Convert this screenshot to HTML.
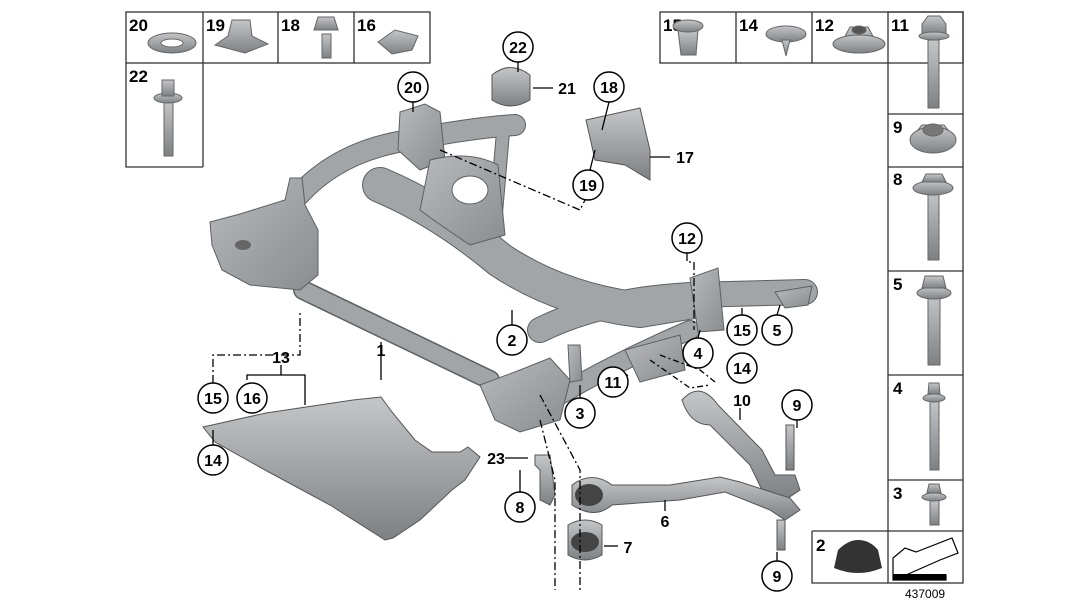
<!DOCTYPE html>
<html><head><meta charset="utf-8"><style>
html,body{margin:0;padding:0;background:#fff;}
svg{display:block;}
text{font-family:"Liberation Sans",Arial,sans-serif;font-weight:bold;fill:#000;}
</style></head><body>
<svg width="1079" height="606" viewBox="0 0 1079 606" xmlns="http://www.w3.org/2000/svg">
<defs>
<linearGradient id="g" x1="0" y1="0" x2="0" y2="1"><stop offset="0" stop-color="#c4c6c8"/><stop offset="1" stop-color="#7e8184"/></linearGradient>
<linearGradient id="g2" x1="0" y1="0" x2="1" y2="1"><stop offset="0" stop-color="#b8babd"/><stop offset="1" stop-color="#8a8d90"/></linearGradient>
</defs>
<g fill="none" stroke="#333" stroke-width="1.3">
<rect x="126" y="12" width="304" height="51"/>
<line x1="203" y1="12" x2="203" y2="167"/><line x1="278" y1="12" x2="278" y2="63"/><line x1="354" y1="12" x2="354" y2="63"/>
<polyline points="126,63 126,167 203,167"/>
<rect x="660" y="12" width="303" height="51"/>
<line x1="736" y1="12" x2="736" y2="63"/><line x1="812" y1="12" x2="812" y2="63"/>
<rect x="888" y="12" width="75" height="571"/>
<line x1="888" y1="114" x2="963" y2="114"/><line x1="888" y1="167" x2="963" y2="167"/><line x1="888" y1="271" x2="963" y2="271"/><line x1="888" y1="375" x2="963" y2="375"/><line x1="888" y1="480" x2="963" y2="480"/><line x1="812" y1="531" x2="963" y2="531"/>
<polyline points="812,531 812,583 888,583"/>
</g>
<g font-size="17">
<text x="129" y="31">20</text><text x="206" y="31">19</text><text x="281" y="31">18</text><text x="357" y="31">16</text>
<text x="129" y="82">22</text>
<text x="663" y="31">15</text><text x="739" y="31">14</text><text x="815" y="31">12</text><text x="891" y="31">11</text>
<text x="893" y="133">9</text><text x="893" y="185">8</text><text x="893" y="290">5</text><text x="893" y="394">4</text><text x="893" y="499">3</text><text x="816" y="551">2</text>
</g>
<text x="905" y="598" font-size="12" style="font-weight:normal">437009</text>
<g stroke="#666" stroke-width="1" fill="url(#g)">
<ellipse cx="172" cy="43" rx="24" ry="10"/><ellipse cx="172" cy="43" rx="11" ry="4" fill="#fff"/>
<path d="M215,45 L228,36 L232,20 L250,20 L252,36 L268,44 L245,53 Z"/>
<rect x="322" y="34" width="9" height="24"/><path d="M314,30 L318,17 L334,17 L338,30 Z"/>
<path d="M378,42 L395,30 L418,36 L412,50 L392,54 Z"/>
<rect x="164" y="100" width="9" height="56"/><ellipse cx="168" cy="98" rx="14" ry="5"/><rect x="162" y="80" width="12" height="16"/>
<path d="M678,30 L698,30 L696,55 L681,55 Z"/><ellipse cx="688" cy="26" rx="15" ry="6"/>
<ellipse cx="786" cy="34" rx="20" ry="8"/><path d="M782,40 L790,40 L786,56 Z"/>
<path d="M843,40 L850,27 L868,27 L875,40 L868,50 L850,50 Z"/><ellipse cx="859" cy="44" rx="26" ry="9"/><ellipse cx="859" cy="30" rx="7" ry="4" fill="#555"/>
<rect x="928" y="40" width="11" height="68"/><path d="M922,24 L928,16 L940,16 L946,24 L946,34 L922,34 Z"/><ellipse cx="934" cy="36" rx="15" ry="4"/>
<path d="M913,136 L922,125 L944,125 L953,136 L944,147 L922,147 Z"/><ellipse cx="933" cy="140" rx="23" ry="13"/><ellipse cx="933" cy="130" rx="10" ry="6" fill="#777"/>
<rect x="928" y="190" width="11" height="70"/><ellipse cx="933" cy="188" rx="20" ry="7"/><path d="M922,182 L926,174 L942,174 L946,182 Z"/>
<rect x="928" y="295" width="12" height="70"/><ellipse cx="934" cy="293" rx="17" ry="6"/><path d="M922,288 L925,276 L943,276 L946,288 Z"/>
<rect x="930" y="400" width="9" height="70"/><ellipse cx="934" cy="398" rx="11" ry="4"/><path d="M928,394 L929,383 L939,383 L940,394 Z"/>
<rect x="930" y="500" width="9" height="25"/><ellipse cx="934" cy="497" rx="12" ry="4"/><path d="M927,493 L929,484 L939,484 L941,493 Z"/>
</g>
<path d="M834,568 L838,550 Q848,540 858,540 Q870,540 878,550 L882,568 Q858,578 834,568 Z" fill="#333"/>
<path d="M893,558 L893,580 L946,580 L946,575 L906,575 L940,560 L958,553 L952,538 L916,552 L905,548 Z" fill="#fff" stroke="#000" stroke-width="1.2"/>
<rect x="893" y="574" width="53" height="6" fill="#000"/>

<!-- subframe tubes: outline then fill -->
<g fill="none" stroke-linecap="round" stroke-linejoin="round">
<g stroke="#5d6063">
<path d="M299,195 Q340,150 410,140 Q470,128 515,125" stroke-width="22"/>
<path d="M503,132 L494,236" stroke-width="14"/>
<path d="M303,290 L490,380" stroke-width="20"/>
<path d="M380,185 Q440,210 500,260 Q560,300 640,310 L700,300" stroke-width="36"/>
<path d="M540,330 Q600,300 690,295 L805,292" stroke-width="26"/>
<path d="M560,395 Q620,360 690,330" stroke-width="20"/>
</g>
<g stroke="#a2a5a8">
<path d="M299,195 Q340,150 410,140 Q470,128 515,125" stroke-width="20"/>
<path d="M503,132 L494,236" stroke-width="12"/>
<path d="M303,290 L490,380" stroke-width="17"/>
<path d="M380,185 Q440,210 500,260 Q560,300 640,310 L700,300" stroke-width="34"/>
<path d="M540,330 Q600,300 690,295 L805,292" stroke-width="24"/>
<path d="M560,395 Q620,360 690,330" stroke-width="18"/>
</g>
</g>
<g stroke="#5d6063" stroke-width="1" fill="url(#g2)">
<path d="M210,222 L240,214 L285,200 L290,178 L302,178 L305,205 L318,230 L318,275 L300,290 L250,285 L222,270 L212,245 Z"/>
<path d="M400,112 L425,104 L440,112 L445,160 L420,170 L398,150 Z"/>
<path d="M430,160 Q470,150 498,165 L505,235 L470,245 Q440,225 420,210 Z"/>
<ellipse cx="470" cy="190" rx="18" ry="14" fill="#fff"/>
<path d="M690,278 L718,268 L724,330 L698,332 Z"/>
<path d="M480,385 L520,370 L550,358 L570,380 L560,420 L520,432 L495,420 Z"/>
<path d="M568,345 L580,345 L582,380 L570,382 Z"/>
<path d="M625,350 L680,335 L685,370 L640,382 Z"/>
<path d="M775,292 L812,286 L808,305 L785,308 Z"/>
</g>
<ellipse cx="243" cy="245" rx="8" ry="5" fill="#666"/>
<g stroke="#555" stroke-width="1" fill="url(#g)">
<!-- 21 bushing -->
<path d="M492,75 Q510,60 530,75 L530,100 Q510,112 492,100 Z"/>
<!-- 17 bracket -->
<path d="M586,120 L640,108 L650,150 L650,180 L625,165 L595,160 Z"/>
<!-- 13 shield -->
<path d="M203,427 L266,413 L353,400 L381,397 L392,412 L415,440 L432,452 L460,452 L468,447 L480,457 L465,480 L452,490 L420,520 L393,538 L385,540 L330,505 L265,470 L215,442 Z"/>
<!-- 10 arm -->
<path d="M682,400 Q700,380 718,405 L762,450 L775,475 L795,475 L800,490 L785,500 L762,490 L750,465 L710,425 Q690,425 682,400 Z"/>
<rect x="786" y="425" width="8" height="45"/>
<!-- 6 arm -->
<path d="M572,485 Q592,470 612,485 L670,485 L720,477 L740,482 L790,498 L800,510 L785,520 L770,510 L725,492 L680,500 L612,505 Q595,520 572,505 Z"/>
<rect x="777" y="520" width="8" height="30"/>
<path d="M568,525 Q585,515 602,525 L602,555 Q585,565 568,555 Z"/>
<!-- 23 bracket -->
<path d="M535,455 L550,455 L555,495 L550,505 L540,500 L540,470 L535,465 Z"/>
</g>
<ellipse cx="589" cy="495" rx="14" ry="11" fill="#444"/>
<ellipse cx="585" cy="542" rx="14" ry="10" fill="#444"/>
<g stroke="#000" stroke-width="1.3" fill="none">
<line x1="413" y1="102" x2="413" y2="112"/><line x1="518" y1="62" x2="518" y2="72"/><line x1="533" y1="88" x2="553" y2="88"/>
<line x1="609" y1="102" x2="602" y2="130"/><line x1="595" y1="150" x2="590" y2="170"/><line x1="650" y1="157" x2="670" y2="157"/>
<line x1="381" y1="342" x2="381" y2="380"/><line x1="512" y1="325" x2="512" y2="310"/>
<polyline points="213,383 213,355 300,355 300,310" stroke-dasharray="8,3,2,3"/>
<polyline points="247,380 247,375 305,375 305,405"/><line x1="281" y1="365" x2="281" y2="375"/>
<line x1="213" y1="445" x2="213" y2="430"/><line x1="505" y1="458" x2="528" y2="458"/><line x1="520" y1="492" x2="520" y2="470"/>
<line x1="665" y1="511" x2="665" y2="500"/><line x1="604" y1="546" x2="618" y2="546"/><line x1="740" y1="408" x2="740" y2="420"/>
<line x1="797" y1="420" x2="797" y2="428"/><line x1="777" y1="561" x2="777" y2="552"/>
<line x1="580" y1="398" x2="580" y2="385"/><line x1="613" y1="382" x2="628" y2="375"/>
<polyline points="687,253 687,262 694,262 694,330" stroke-dasharray="8,3,2,3"/>
<line x1="698" y1="338" x2="700" y2="330"/><line x1="742" y1="315" x2="742" y2="308"/><line x1="777" y1="315" x2="780" y2="305"/>
<polyline points="440,150 580,210 585,200" stroke-dasharray="8,3,2,3"/>
<polyline points="540,395 580,470 580,590" stroke-dasharray="8,3,2,3"/>
<polyline points="540,420 555,480 555,590" stroke-dasharray="8,3,2,3"/>
<polyline points="650,360 690,388 710,385" stroke-dasharray="6,3,2,3"/>
<polyline points="660,355 700,370 715,382" stroke-dasharray="6,3,2,3"/>
</g>
<g fill="#fff" stroke="#000" stroke-width="1.5">
<circle cx="518" cy="47" r="15"/><circle cx="413" cy="87" r="15"/><circle cx="609" cy="87" r="15"/><circle cx="588" cy="185" r="15"/>
<circle cx="687" cy="238" r="15"/><circle cx="512" cy="340" r="15"/><circle cx="742" cy="330" r="15"/><circle cx="777" cy="330" r="15"/>
<circle cx="698" cy="353" r="15"/><circle cx="742" cy="368" r="15"/><circle cx="613" cy="382" r="15"/><circle cx="580" cy="413" r="15"/>
<circle cx="797" cy="405" r="15"/><circle cx="213" cy="398" r="15"/><circle cx="252" cy="398" r="15"/><circle cx="213" cy="460" r="15"/>
<circle cx="520" cy="507" r="15"/><circle cx="777" cy="576" r="15"/>
</g>
<g font-size="16" text-anchor="middle">
<text x="518" y="53">22</text><text x="413" y="93">20</text><text x="609" y="93">18</text><text x="588" y="191">19</text>
<text x="687" y="244">12</text><text x="512" y="346">2</text><text x="742" y="336">15</text><text x="777" y="336">5</text>
<text x="698" y="359">4</text><text x="742" y="374">14</text><text x="613" y="388">11</text><text x="580" y="419">3</text>
<text x="797" y="411">9</text><text x="213" y="404">15</text><text x="252" y="404">16</text><text x="213" y="466">14</text>
<text x="520" y="513">8</text><text x="777" y="582">9</text>
<text x="567" y="94">21</text><text x="685" y="163">17</text><text x="381" y="356">1</text><text x="281" y="363">13</text>
<text x="742" y="406">10</text><text x="496" y="464">23</text><text x="665" y="527">6</text><text x="628" y="553">7</text>
</g>
</svg>
</body></html>
